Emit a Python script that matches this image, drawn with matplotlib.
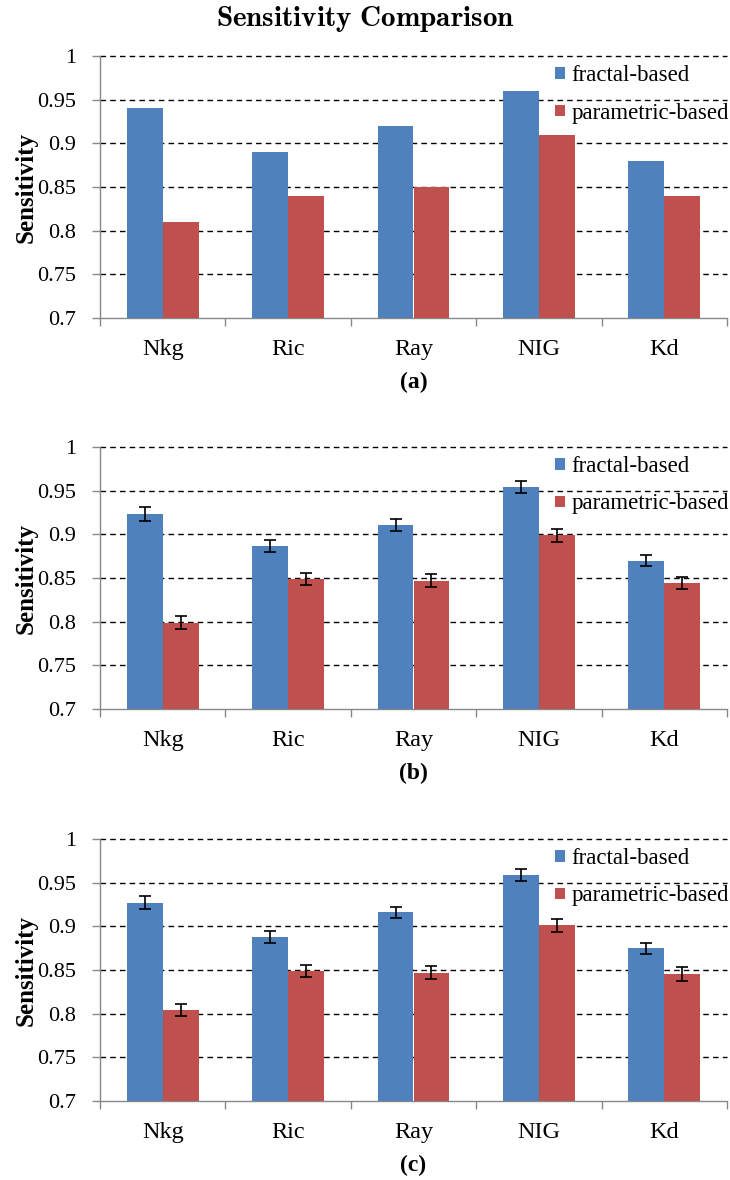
import matplotlib
matplotlib.use("Agg")
import matplotlib.pyplot as plt
from matplotlib.patches import Patch
import numpy as np

plt.rcParams['font.family'] = ['Liberation Serif', 'DejaVu Serif']
plt.rcParams['mathtext.fontset'] = 'cm'

categories = ["Nkg", "Ric", "Ray", "NIG", "Kd"]
series_names = ["fractal-based", "parametric-based"]

# (a) single run
fractal_a = [0.94, 0.89, 0.92, 0.96, 0.88]
param_a = [0.81, 0.84, 0.85, 0.91, 0.84]

# (b) averaged, with error bars
fractal_b = [0.923, 0.887, 0.911, 0.954, 0.870]
fractal_b_err = [0.0078, 0.0069, 0.0070, 0.0070, 0.0063]
param_b = [0.799, 0.849, 0.847, 0.899, 0.844]
param_b_err = [0.0070, 0.0070, 0.0076, 0.0076, 0.0070]

# (c) averaged, with error bars
fractal_c = [0.927, 0.888, 0.916, 0.959, 0.875]
fractal_c_err = [0.0076, 0.0070, 0.0066, 0.0068, 0.0064]
param_c = [0.804, 0.849, 0.847, 0.901, 0.845]
param_c_err = [0.0070, 0.0070, 0.0076, 0.0078, 0.0080]

y_ticks = [0.7, 0.75, 0.8, 0.85, 0.9, 0.95, 1.0]
y_tick_labels = ["0.7", "0.75", "0.8", "0.85", "0.9", "0.95", "1"]
panel_labels = ["(a)", "(b)", "(c)"]

BLUE = "#4F81BD"
RED = "#C0504D"
AXIS_GRAY = "#888888"

W, H = 730, 1180
fig = plt.figure(figsize=(W / 100, H / 100), dpi=100)

fig.text(0.5, 1 - 19 / H, r"$\mathbf{Sensitivity\ Comparison}$",
         ha="center", va="center", fontsize=21)

panels = [
    (fractal_a, None, param_a, None),
    (fractal_b, fractal_b_err, param_b, param_b_err),
    (fractal_c, fractal_c_err, param_c, param_c_err),
]
tops = [56, 447, 839]
ax_left, ax_right = 100, 727
ax_h = 262
bw = 0.286

for (f_vals, f_err, p_vals, p_err), top, plab in zip(panels, tops, panel_labels):
    ax = fig.add_axes([ax_left / W, 1 - (top + ax_h) / H,
                       (ax_right - ax_left) / W, ax_h / H])
    x = np.arange(len(categories))
    ekw = dict(ecolor="black", elinewidth=1.2, capsize=4, capthick=1.2)
    ax.bar(x - bw / 2, f_vals, width=bw, color=BLUE, zorder=3,
           yerr=f_err, error_kw=ekw)
    ax.bar(x + bw / 2, p_vals, width=bw, color=RED, zorder=3,
           yerr=p_err, error_kw=ekw)

    ax.set_xlim(-0.5, len(categories) - 0.5)
    ax.set_ylim(0.7, 1.0)

    # dashed horizontal grid
    for yv in y_ticks[1:]:
        ax.axhline(yv, color="black", linestyle=(0, (4, 3)), linewidth=1.0,
                   zorder=1, clip_on=False)

    ax.set_yticks(y_ticks)
    ax.set_yticklabels(y_tick_labels)
    ax.set_xticks(x)
    ax.set_xticklabels(categories)
    ax.set_xticks(np.arange(-0.5, len(categories), 1.0), minor=True)
    ax.tick_params(axis="x", which="major", length=0, pad=15, labelsize=17.5)
    ax.tick_params(axis="x", which="minor", length=6, direction="out",
                   color=AXIS_GRAY, width=1.0)
    ax.tick_params(axis="y", length=6, direction="out", color=AXIS_GRAY,
                   width=1.0, labelsize=16, pad=11)

    for s in ["top", "right"]:
        ax.spines[s].set_visible(False)
    for s in ["left", "bottom"]:
        ax.spines[s].set_color(AXIS_GRAY)
        ax.spines[s].set_linewidth(1.0)

    ax.set_ylabel("Sensitivity", fontsize=18, fontweight="bold")
    ax.yaxis.set_label_coords(-(ax_left - 26) / (ax_right - ax_left), 0.5)
    ax.yaxis.label.set_va("center")

    handles = [Patch(facecolor=BLUE, edgecolor="none"),
               Patch(facecolor=RED, edgecolor="none")]
    ax.legend(handles, series_names, loc="upper right",
              bbox_to_anchor=(729 / W, 1 - (top + 9) / H),
              bbox_transform=fig.transFigure, frameon=False,
              fontsize=16.5, handlelength=0.4, handleheight=0.4,
              handletextpad=0.3, labelspacing=0.72, borderpad=0,
              borderaxespad=0)

    fig.text((ax_left + ax_right) / 2 / W, 1 - (top + 326) / H, plab,
             ha="center", va="center", fontsize=17, fontweight="bold")

fig.savefig("out.png", dpi=100)
